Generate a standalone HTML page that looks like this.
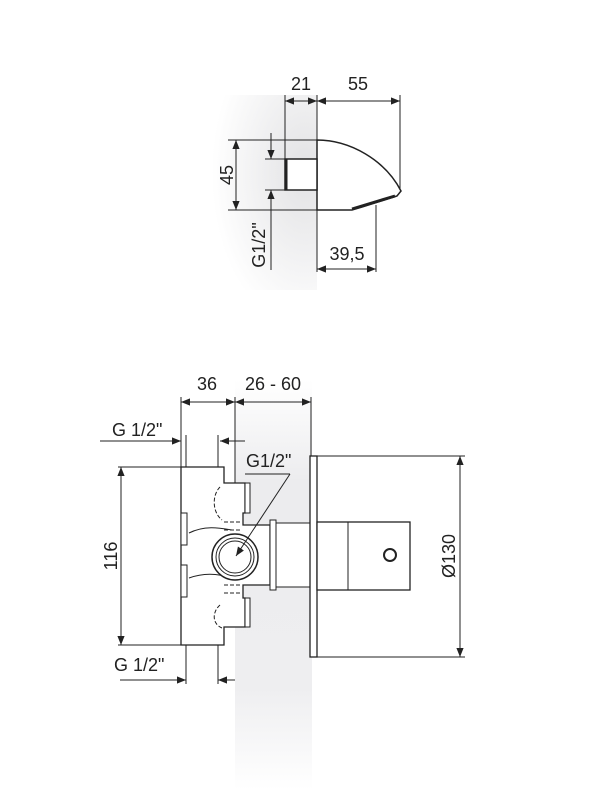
<!DOCTYPE html>
<html><head><style>
html,body{margin:0;padding:0;background:#fff}
svg{display:block}
text{font-family:"Liberation Sans",sans-serif;font-size:18px;fill:#222}
</style></head><body>
<svg width="600" height="800" viewBox="0 0 600 800" xmlns="http://www.w3.org/2000/svg">
<defs>
<radialGradient id="g1" cx="0.9" cy="0.4" r="0.8">
<stop offset="0" stop-color="#e2e2e4"/><stop offset="1" stop-color="#fff"/></radialGradient>
<linearGradient id="g2" x1="0" x2="0" y1="0" y2="1">
<stop offset="0" stop-color="#fff"/><stop offset="0.25" stop-color="#ececee"/><stop offset="0.75" stop-color="#eeeef0"/><stop offset="1" stop-color="#fff"/></linearGradient>
<marker id="a" viewBox="0 0 10 10" refX="10" refY="5" markerWidth="9" markerHeight="9" orient="auto-start-reverse" markerUnits="userSpaceOnUse"><path d="M0,1 L10,5 L0,9z" fill="#222"/></marker>
</defs>
<rect x="200" y="95" width="117" height="195" fill="url(#g1)"/>
<rect x="235" y="380" width="77" height="410" fill="url(#g2)"/>
<g stroke="#222" stroke-width="1" fill="none">
<line x1="285" y1="95" x2="285" y2="190"/><line x1="317" y1="95" x2="317" y2="272"/><line x1="400" y1="95" x2="400" y2="190"/>
<line x1="285" y1="101" x2="317" y2="101" marker-start="url(#a)" marker-end="url(#a)"/>
<line x1="317" y1="101" x2="400" y2="101" marker-start="url(#a)" marker-end="url(#a)"/>
<path d="M317,140 C350,140 385,160 401,191 L397,196 L362,207 L352,210 L317,210 Z" fill="#fff" stroke-width="1.5"/>
<path d="M352,209 L395,196" stroke-width="3"/>
<rect x="285" y="159" width="32" height="31" fill="#fff" stroke-width="1.5"/>
<line x1="286" y1="159" x2="286" y2="190" stroke-width="3"/>
<line x1="228" y1="140" x2="317" y2="140"/><line x1="228" y1="210" x2="317" y2="210"/>
<line x1="236" y1="140" x2="236" y2="210" marker-start="url(#a)" marker-end="url(#a)"/>
<line x1="265" y1="159" x2="285" y2="159"/><line x1="265" y1="190" x2="285" y2="190"/>
<line x1="271" y1="133" x2="271" y2="159" marker-end="url(#a)"/>
<line x1="271" y1="270" x2="271" y2="190" marker-end="url(#a)"/>
<line x1="376" y1="205" x2="376" y2="272"/>
<line x1="317" y1="269" x2="376" y2="269" marker-start="url(#a)" marker-end="url(#a)"/>
<line x1="181" y1="397" x2="181" y2="467"/><line x1="235" y1="397" x2="235" y2="570"/><line x1="311" y1="397" x2="311" y2="456"/>
<line x1="181" y1="402" x2="235" y2="402" marker-start="url(#a)" marker-end="url(#a)"/>
<line x1="235" y1="402" x2="311" y2="402" marker-start="url(#a)" marker-end="url(#a)"/>
<line x1="186" y1="435" x2="186" y2="467"/><line x1="218" y1="435" x2="218" y2="467"/>
<line x1="100" y1="441" x2="181" y2="441" marker-end="url(#a)"/>
<line x1="245" y1="441" x2="220" y2="441" marker-end="url(#a)"/>
<line x1="186" y1="645" x2="186" y2="684"/><line x1="218" y1="645" x2="218" y2="684"/>
<line x1="120" y1="680" x2="186" y2="680" marker-end="url(#a)"/>
<line x1="235" y1="680" x2="218" y2="680" marker-end="url(#a)"/>
<line x1="118" y1="467" x2="181" y2="467"/><line x1="118" y1="645" x2="181" y2="645"/>
<line x1="121" y1="467" x2="121" y2="645" marker-start="url(#a)" marker-end="url(#a)"/>
<path d="M181,467 L224,467 L224,483 L245,483 L245,513 L243,513 L243,525 L270,525 L270,585 L243,585 L243,598 L245,598 L245,627 L224,627 L224,645 L181,645 Z" fill="#fff" stroke-width="1.3"/>
<rect x="245" y="483" width="5" height="30" fill="#fff"/>
<rect x="245" y="598" width="5" height="29" fill="#fff"/>
<rect x="181" y="513" width="6" height="32" fill="#fff"/>
<rect x="181" y="565" width="6" height="32" fill="#fff"/>
<path d="M189,533 C205,525 220,528 232,530 M189,578 C205,572 220,574 232,578" />
<path d="M220,487 C212,495 212,512 222,520 M220,605 C212,612 212,624 222,628" stroke-dasharray="4 2"/>
<path d="M224,522 L242,522 M224,530 L242,530 M224,585 L242,585 M224,593 L242,593" stroke-dasharray="4 2"/>
<circle cx="235" cy="557" r="23" fill="#fff" stroke-width="1.5"/>
<circle cx="235" cy="557" r="19"/><circle cx="235" cy="557" r="16"/>
<rect x="270" y="520" width="6" height="70" fill="#fff"/>
<rect x="276" y="523" width="34" height="64" fill="#fff"/>
<rect x="310" y="456" width="7" height="201" fill="#fff" stroke-width="1.3"/>
<rect x="317" y="522" width="93" height="68" fill="#fff" stroke-width="1.3"/>
<line x1="348" y1="522" x2="348" y2="590"/>
<circle cx="390" cy="555" r="6" stroke-width="2"/>
<line x1="317" y1="456" x2="465" y2="456"/><line x1="317" y1="657" x2="465" y2="657"/>
<line x1="460" y1="456" x2="460" y2="657" marker-start="url(#a)" marker-end="url(#a)"/>
<line x1="245" y1="474" x2="290" y2="474"/>
<line x1="290" y1="474" x2="236" y2="556" marker-end="url(#a)"/>
</g>
<text x="301" y="90" text-anchor="middle">21</text>
<text x="358" y="90" text-anchor="middle">55</text>
<text x="347" y="260" text-anchor="middle">39,5</text>
<text transform="translate(233,175) rotate(-90)" text-anchor="middle">45</text>
<text transform="translate(265,245) rotate(-90)" text-anchor="middle">G1/2"</text>
<text x="207" y="390" text-anchor="middle">36</text>
<text x="273" y="390" text-anchor="middle">26 - 60</text>
<text x="112" y="436">G 1/2"</text>
<text x="114" y="671">G 1/2"</text>
<text x="246" y="467">G1/2"</text>
<text transform="translate(117,556) rotate(-90)" text-anchor="middle">116</text>
<text transform="translate(455,556) rotate(-90)" text-anchor="middle">Ø130</text>
</svg>
</body></html>
